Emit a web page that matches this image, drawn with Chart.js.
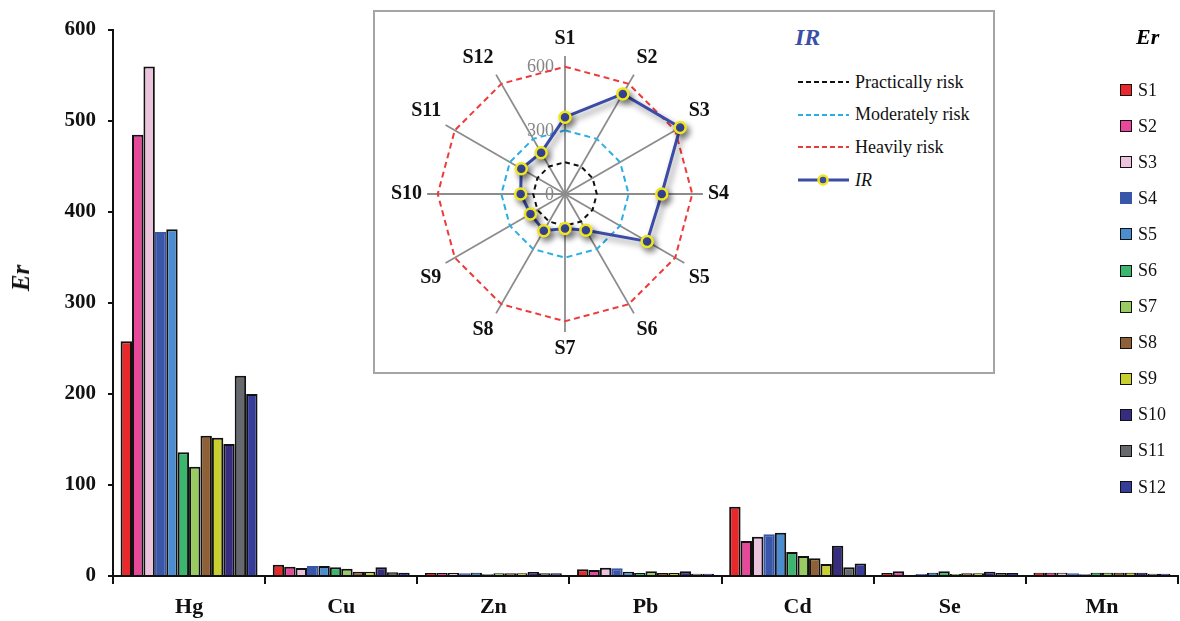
<!DOCTYPE html>
<html><head><meta charset="utf-8">
<script src="https://cdn.jsdelivr.net/npm/chart.js@4/dist/chart.umd.min.js"></script>
<style>
html,body{margin:0;padding:0;background:#fff;}
#wrap{position:relative;width:1180px;height:621px;overflow:hidden;font-family:"Liberation Serif","Times New Roman",serif;}
#bar{position:absolute;left:0;top:0;}
#inset{position:absolute;left:373px;top:10px;width:618px;height:360px;border:2px solid #a5a5a5;background:#fff;}
#radar{position:absolute;left:386px;top:20px;}
#irTitle{position:absolute;left:795px;top:24px;font-size:24px;font-weight:bold;font-style:italic;color:#3a4fa8;}
#insetLegend{position:absolute;left:798px;top:66px;}
#insetLegend .row{height:32.6px;display:flex;align-items:center;font-size:18px;color:#111;}
#insetLegend svg{margin-right:6px;}
#erTitle{position:absolute;left:1136px;top:24px;font-size:22px;font-weight:bold;font-style:italic;}
#yTitle{position:absolute;left:21px;top:278px;transform:translate(-50%,-50%) rotate(-90deg);font-size:25px;font-weight:bold;font-style:italic;color:#111;white-space:nowrap;}
#barLegend{position:absolute;left:1120px;top:72px;}
#barLegend .row{height:36.1px;display:flex;align-items:center;font-size:18px;color:#111;}
#barLegend .sw{width:10px;height:10px;border:1.5px solid #111;margin-right:6px;}
</style></head>
<body>
<div id="wrap">
  <canvas id="bar" width="1180" height="621"></canvas>
  <div id="yTitle">Er</div>
  <div id="inset"></div>
  <canvas id="radar" width="349" height="349"></canvas>
  <div id="irTitle">IR</div>
  <div id="insetLegend"></div>
  <div id="erTitle">Er</div>
  <div id="barLegend"></div>
</div>
<script>
// ---------- data ----------
const elements = ['Hg','Cu','Zn','Pb','Cd','Se','Mn'];
const sites = ['S1','S2','S3','S4','S5','S6','S7','S8','S9','S10','S11','S12'];
const siteColors = ['#e8282b','#e8489a','#ecc3dd','#3a56a8','#4b8dcf','#3cb56e','#98cc63','#8f6036','#c8cf2e','#362c80','#666a6e','#363c9a'];
// Er values per site, ordered Hg, Cu, Zn, Pb, Cd, Se, Mn
const erS1  = [258, 12.4, 3.3, 7.3, 76, 3.3, 3.7];
const erS2  = [485, 10.2, 3.3, 6.6, 38.5, 5.1, 3.7];
const erS3  = [560, 8.8, 3.3, 9.2, 43, 1.5, 3.7];
const erS4  = [378, 11, 2.9, 8.4, 45.8, 2.2, 3.0];
const erS5  = [381, 11, 3.7, 4.8, 47.6, 3.7, 1.8];
const erS6  = [136, 9.5, 1.8, 3.3, 26.4, 5.1, 3.7];
const erS7  = [120, 8, 3.0, 5.1, 22, 2.2, 3.7];
const erS8  = [154, 4.8, 3.0, 3.3, 19.4, 2.9, 3.7];
const erS9  = [152, 4.8, 3.0, 3.3, 13.2, 2.9, 3.7];
const erS10 = [145, 9.5, 4.4, 5.1, 33.3, 4.8, 3.7];
const erS11 = [220, 4.0, 3.0, 2.6, 9.5, 3.3, 2.5];
const erS12 = [200, 3.5, 3.0, 2.6, 13.6, 3.3, 2.5];
const erSeries = [erS1, erS2, erS3, erS4, erS5, erS6, erS7, erS8, erS9, erS10, erS11, erS12];
const yTicks = [0, 100, 200, 300, 400, 500, 600];

// IR radar values
const irValues = [362, 545, 627, 456, 447, 197, 163, 200, 188, 209, 238, 225];
const practicalRisk = [150,150,150,150,150,150,150,150,150,150,150,150];
const moderateRisk  = [300,300,300,300,300,300,300,300,300,300,300,300];
const heavyRisk     = [600,600,600,600,600,600,600,600,600,600,600,600];
const radarTicks = [0, 300, 600];

const SERIF = '"Liberation Serif","Times New Roman",serif';

// ---------- bar chart ----------
new Chart(document.getElementById('bar'), {
  type: 'bar',
  data: {
    labels: elements,
    datasets: erSeries.map((vals, i) => ({
      label: sites[i],
      data: vals,
      backgroundColor: siteColors[i],
      borderColor: i === 3 ? siteColors[i] : '#111',
      borderWidth: 2,
      categoryPercentage: 0.9,
      barPercentage: 1.0
    }))
  },
  options: {
    responsive: false,
    animation: false,
    devicePixelRatio: 1,
    layout: { padding: { top: 30, right: 2, left: 0, bottom: 0 } },
    plugins: { legend: { display: false }, tooltip: { enabled: false } },
    scales: {
      x: {
        grid: { display: true, drawOnChartArea: false, drawTicks: true, tickLength: 8, color: '#111', lineWidth: 2, offset: true },
        border: { display: true, color: '#111', width: 2 },
        ticks: { color: '#111', font: { family: SERIF, size: 22, weight: 'bold' }, padding: 10, maxRotation: 0 },
        afterFit: s => { s.height = 45; }
      },
      y: {
        min: 0, max: 600,
        afterBuildTicks: s => { s.ticks = yTicks.map(v => ({ value: v })); },
        grid: { display: true, drawOnChartArea: false, drawTicks: true, tickLength: 5, color: '#111', lineWidth: 2 },
        border: { display: true, color: '#111', width: 2 },
        ticks: { color: '#111', font: { family: SERIF, size: 21, weight: 'bold' }, padding: 12 },
        title: { display: false },
        afterFit: s => { s.width = 113; }
      }
    }
  }
});

// ---------- radar inset ----------
const radarTickPlugin = {
  id: 'radarTicks',
  beforeDatasetsDraw(chart) {
    const s = chart.scales.r, ctx = chart.ctx;
    ctx.save();
    ctx.font = '18px ' + SERIF;
    ctx.fillStyle = '#858585';
    ctx.textAlign = 'right';
    ctx.textBaseline = 'middle';
    radarTicks.forEach(v => {
      const d = s.getDistanceFromCenterForValue(v);
      ctx.fillText(String(v), s.xCenter - 11, s.yCenter - d + 1);
    });
    ctx.restore();
  }
};
const shadowPlugin = {
  id: 'irShadow',
  beforeDatasetDraw(chart, args) {
    if (args.index === 0) {
      const ctx = chart.ctx; ctx.save();
      ctx.shadowColor = 'rgba(0,0,0,0.45)'; ctx.shadowBlur = 6; ctx.shadowOffsetX = 3; ctx.shadowOffsetY = 4;
    }
  },
  afterDatasetDraw(chart, args) { if (args.index === 0) chart.ctx.restore(); }
};

new Chart(document.getElementById('radar'), {
  type: 'radar',
  data: {
    labels: sites,
    datasets: [
      { label: 'IR', data: irValues, borderColor: '#3b4ba6', borderWidth: 3, fill: false,
        pointRadius: 5.5, pointBackgroundColor: '#3b4ba6', pointBorderColor: '#f0e61c', pointBorderWidth: 2.5, order: 0 },
      { label: 'Heavily risk', data: heavyRisk, borderColor: '#ee3a3a', borderWidth: 2, borderDash: [6, 4], fill: false, pointRadius: 0, order: 1 },
      { label: 'Moderately risk', data: moderateRisk, borderColor: '#2aaee3', borderWidth: 2, borderDash: [6, 4], fill: false, pointRadius: 0, order: 2 },
      { label: 'Practically risk', data: practicalRisk, borderColor: '#111', borderWidth: 2, borderDash: [5, 4], fill: false, pointRadius: 0, order: 3 }
    ]
  },
  options: {
    responsive: false,
    animation: false,
    devicePixelRatio: 1,
    elements: { line: { tension: 0 } },
    plugins: { legend: { display: false }, tooltip: { enabled: false } },
    scales: {
      r: {
        min: 0, max: 650,
        ticks: { display: false },
        grid: { display: false },
        angleLines: { display: true, color: '#8c8c8c', lineWidth: 1.8 },
        pointLabels: { color: '#111', font: { family: SERIF, size: 20, weight: 'bold' }, padding: 5 }
      }
    }
  },
  plugins: [radarTickPlugin, shadowPlugin]
});

// ---------- HTML legends ----------
const insetItems = [
  { text: 'Practically risk', color: '#111', dash: '5,3', marker: false, italic: false },
  { text: 'Moderately risk', color: '#2aaee3', dash: '5,3', marker: false, italic: false },
  { text: 'Heavily risk', color: '#ee3a3a', dash: '5,3', marker: false, italic: false },
  { text: 'IR', color: '#3b4ba6', dash: '', marker: true, italic: true }
];
const il = document.getElementById('insetLegend');
insetItems.forEach(it => {
  const row = document.createElement('div'); row.className = 'row';
  const m = it.marker ? '<circle cx="25" cy="6" r="4.5" fill="#3b4ba6" stroke="#f0e61c" stroke-width="2.5"/>' : '';
  row.innerHTML = '<svg width="51" height="12"><line x1="0" y1="6" x2="51" y2="6" stroke="' + it.color + '" stroke-width="' + (it.marker ? 3 : 2) + '" ' + (it.dash ? 'stroke-dasharray="' + it.dash + '"' : '') + '/>' + m + '</svg>' +
    '<span style="' + (it.italic ? 'font-style:italic' : '') + '">' + it.text + '</span>';
  il.appendChild(row);
});
const bl = document.getElementById('barLegend');
sites.forEach((s, i) => {
  const row = document.createElement('div'); row.className = 'row';
  row.innerHTML = '<div class="sw" style="background:' + siteColors[i] + ';' + (i === 3 ? 'border-color:' + siteColors[i] : '') + '"></div><span>' + s + '</span>';
  bl.appendChild(row);
});
</script>
</body></html>
